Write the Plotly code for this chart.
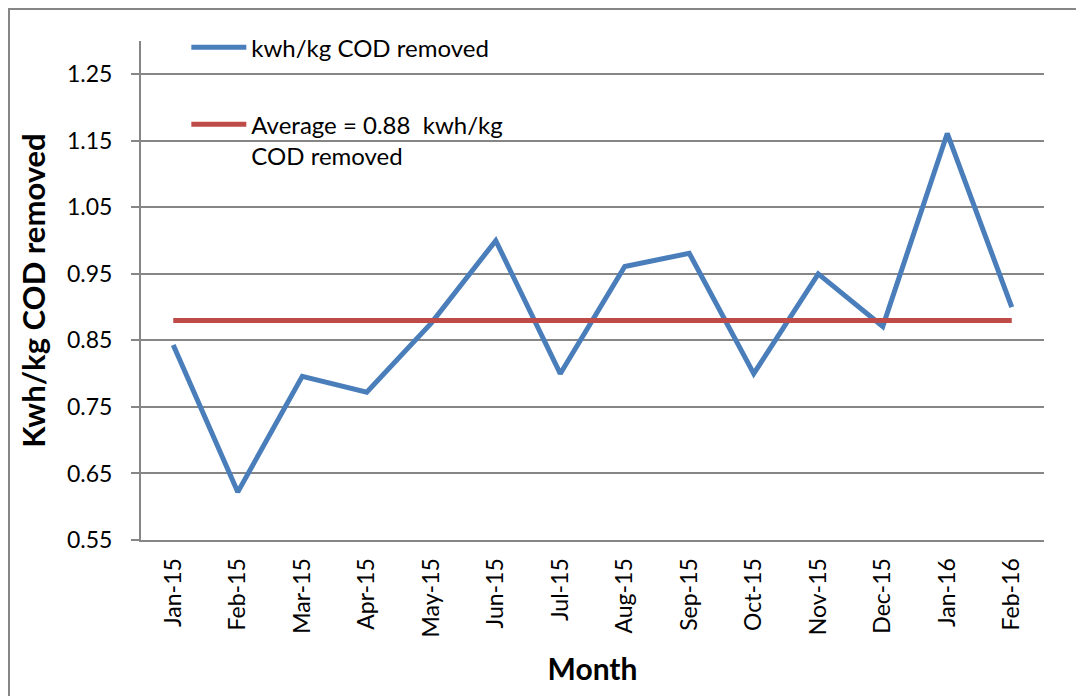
import plotly.graph_objects as go

months = ["Jan-15", "Feb-15", "Mar-15", "Apr-15", "May-15", "Jun-15", "Jul-15",
          "Aug-15", "Sep-15", "Oct-15", "Nov-15", "Dec-15", "Jan-16", "Feb-16"]
kwh_per_kg = [0.843, 0.622, 0.796, 0.772, 0.876, 1.000, 0.800,
              0.961, 0.981, 0.800, 0.950, 0.871, 1.161, 0.900]
average_value = 0.88
average_line = [average_value] * len(months)
y_ticks = [0.55, 0.65, 0.75, 0.85, 0.95, 1.05, 1.15, 1.25]

FONT = "Lato"
ML, MR, MT, MB = 133, 48, 33, 164
PW = 1084 - ML - MR
PH = 696 - MT - MB

fig = go.Figure()
fig.add_trace(go.Scatter(
    x=months, y=kwh_per_kg, mode="lines", name="kwh/kg COD removed",
    line=dict(color="#4a7ebb", width=5), legendgroup="a"))
fig.add_trace(go.Scatter(
    x=months, y=average_line, mode="lines",
    name="Average = 0.88  kwh/kg<br>COD removed",
    line=dict(color="#be4b48", width=5), legendgroup="b"))

fig.update_layout(
    width=1084, height=696,
    margin=dict(l=ML, r=MR, t=MT, b=MB),
    paper_bgcolor="white", plot_bgcolor="white",
    font=dict(family=FONT, size=23, color="black"),
    showlegend=True,
    legend=dict(x=0.0502, y=1.032, xanchor="left", yanchor="top",
                bgcolor="rgba(0,0,0,0)", tracegroupgap=43, valign="top",
                font=dict(family=FONT, size=24, color="black"),
                itemwidth=55),
    xaxis=dict(type="category", categoryorder="array", categoryarray=months,
               range=[-0.5, len(months) - 0.5],
               showgrid=False, showline=True, linecolor="#868686", linewidth=2,
               ticks="", tickangle=-90, tickfont=dict(family=FONT, size=23),
               ticklabelstandoff=7,
               title=dict(text="<b>Month</b>", font=dict(family=FONT, size=30),
                          standoff=23)),
    yaxis=dict(range=[0.55, 1.30], tickvals=y_ticks,
               ticktext=[f"{v:.2f}" for v in y_ticks],
               showgrid=True, gridcolor="#868686", gridwidth=1.5,
               showline=True, linecolor="#868686", linewidth=2,
               ticks="outside", ticklen=8, tickcolor="#868686", tickwidth=1.5,
               ticklabelstandoff=14,
               zeroline=False, tickfont=dict(family=FONT, size=23),
               title=dict(text="<b>Kwh/kg COD removed</b>",
                          font=dict(family=FONT, size=31), standoff=12)),
    shapes=[dict(type="rect", xref="paper", yref="paper",
                 x0=-(ML - 1) / PW, x1=(1084 - ML + 20) / PW,
                 y0=-(MB + 20) / PH, y1=1 + (MT - 1) / PH,
                 line=dict(color="#868686", width=2), layer="below")],
)

fig.write_html("out.html")
